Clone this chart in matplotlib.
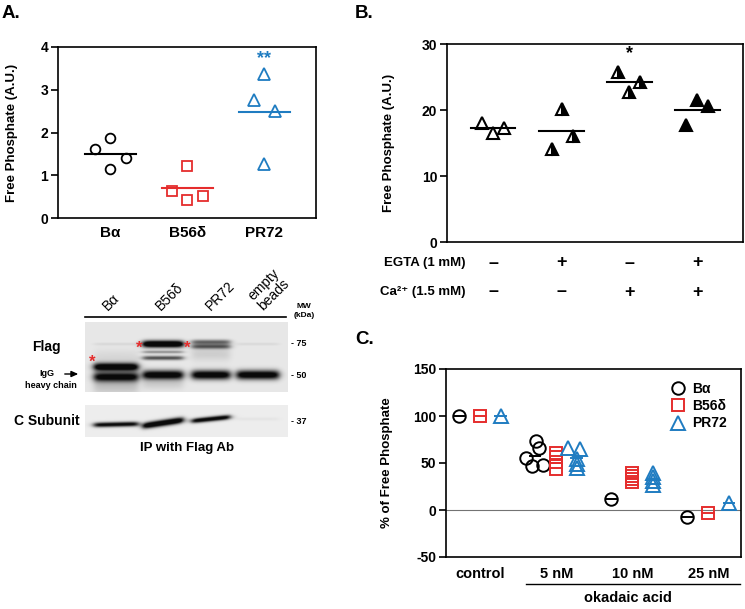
import numpy as np
import matplotlib
matplotlib.use("Agg")
import matplotlib.pyplot as plt
from matplotlib import transforms

plt.rcParams['font.family'] = ['Liberation Sans', 'DejaVu Sans']
plt.rcParams['axes.unicode_minus'] = False

W, H = 745, 609

# --- Panel A: phosphatase activity per B subunit ---
a_groups = ['Bα', 'B56δ', 'PR72']
a_vals = [[1.61, 1.87, 1.40, 1.15],
          [1.22, 0.64, 0.41, 0.52],
          [3.38, 2.77, 2.50, 1.26]]
a_jitter = [[-0.2, 0.0, 0.2, 0.0],
            [0.0, -0.2, 0.0, 0.2],
            [0.0, -0.14, 0.14, 0.0]]
a_yticks = [0, 1, 2, 3, 4]

# --- Panel B: EGTA / Ca2+ ---
b_vals = [[18.0, 16.5, 17.3],
          [20.1, 14.1, 16.1],
          [25.8, 22.8, 24.2],
          [17.7, 21.5, 20.6]]
b_jitter = [[-0.16, 0.0, 0.16],
            [0.02, -0.14, 0.18],
            [-0.16, 0.0, 0.16],
            [-0.16, 0.0, 0.16]]
b_face = ['white', 'black', 'black', 'black']
b_fill = ['full', 'right', 'right', 'full']
b_egta = ['–', '+', '–', '+']
b_ca = ['–', '–', '+', '+']
b_yticks = [0, 10, 20, 30]

# --- Panel C: okadaic acid ---
c_doses = ['control', '5 nM', '10 nM', '25 nM']
c_series = ['Bα', 'B56δ', 'PR72']
c_bal = [[100], [73, 66, 55, 47, 48], [12], [-7]]
c_b56 = [[100], [61, 56, 51, 44], [39, 36, 33, 30], [-3]]
c_pr72 = [[100], [66, 65, 54, 49, 45], [39, 35, 31, 27], [7]]
c_bal_jit = [[0], [0.01, 0.05, -0.12, -0.04, 0.11], [0], [0]]
c_b56_jit = [[0], [0, 0, 0, 0], [0, 0, 0, 0], [0]]
c_pr72_jit = [[0], [-0.12, 0.04, 0, 0, 0], [0, 0, 0, 0], [0]]
c_yticks = [-50, 0, 50, 100, 150]

# --- Western blot (lane index, y start, y end, sigma, intensity) ---
lanes = ['Bα', 'B56δ', 'PR72', 'empty\nbeads']
lane_x = [116, 163, 211, 258]
lane_hw = [22, 20, 19, 21]
flag_bands = [(0, 45, 45, 2.8, 1.3), (0, 55, 55, 3.4, 1.1), (0, 64, 64, 6.0, 0.18),
              (0, 22, 22, 1.0, 0.07), (0, 36, 36, 6.0, 0.08),
              (1, 22, 22, 2.4, 1.5), (1, 30, 30, 1.0, 0.4), (1, 36, 36, 1.5, 0.7),
              (1, 53, 53, 3.3, 1.2), (1, 62, 62, 4.0, 0.12),
              (2, 20, 20, 1.7, 0.6), (2, 24.5, 24.5, 1.7, 0.65), (2, 32, 32, 5.0, 0.12),
              (2, 53, 53, 3.3, 1.2),
              (3, 22, 22, 1.0, 0.07), (3, 53, 53, 3.3, 1.2)]
csub_bands = [(0, 20, 19, 1.7, 1.1), (1, 21, 15, 2.2, 1.4),
              (2, 16, 12, 1.7, 1.2), (3, 14, 14, 1.2, 0.04)]

COL = ['black', '#e52d2d', '#1f7cc1']
MRK = ['o', 's', '^']


def px_rect(l, t, r, b):
    return [l / W, 1 - b / H, (r - l) / W, (b - t) / H]


def style_axes(ax, yticks):
    for s in ax.spines.values():
        s.set_linewidth(1.2)
    ax.set_yticks(yticks)
    ax.tick_params(axis='y', direction='out', length=5, width=1.2, pad=2, labelsize=10)
    ax.tick_params(axis='x', length=0, labelsize=10.5)
    for lab in ax.get_yticklabels():
        lab.set_fontweight('bold')


def draw_blot(ax, box, bands, bg=0.91):
    x0, x1, y0, y1 = box
    xs = np.linspace(x0, x1, (x1 - x0) * 3)
    ys = np.linspace(y0, y1, (y1 - y0) * 3)
    X, Y = np.meshgrid(xs, ys)
    dark = np.zeros_like(X)
    for lane, ya, yb, sig, k in bands:
        xl, xr = lane_x[lane] - lane_hw[lane], lane_x[lane] + lane_hw[lane]
        t = np.clip((X - xl) / (xr - xl), 0, 1)
        yc = y0 + ya + (yb - ya) * t
        horiz = 1 / (1 + np.exp(-(X - xl) / 2.0)) / (1 + np.exp((X - xr) / 2.0))
        dark += k * horiz * np.exp(-0.5 * ((Y - yc) / sig) ** 2)
    img = bg - (bg - 0.04) * np.clip(dark, 0, 1)
    ax.imshow(img, cmap='gray', vmin=0, vmax=1, extent=(x0, x1, y1, y0),
              interpolation='bilinear', aspect='auto')


def draw_figure():
    fig = plt.figure(figsize=(W / 100, H / 100), dpi=100)

    # overlay for free text and the blot (pixel coordinates)
    ov = fig.add_axes([0, 0, 1, 1])
    ov.axis('off')

    ov.text(2, 13, 'A.', fontsize=13.5, fontweight='bold', ha='left', va='center')
    ov.text(355, 13, 'B.', fontsize=13.5, fontweight='bold', ha='left', va='center')
    ov.text(355, 340, 'C.', fontsize=13.5, fontweight='bold', ha='left', va='center')

    # --- blot ---
    draw_blot(ov, (85, 288, 322, 392), flag_bands)
    draw_blot(ov, (85, 288, 405, 437), csub_bands, bg=0.93)
    ov.set_xlim(0, W)
    ov.set_ylim(H, 0)

    lab_dx = [-6, 0, 2, 7]
    for i, name in enumerate(lanes):
        ov.text(lane_x[i] + lab_dx[i], 313, name, rotation=45, rotation_mode='anchor',
                ha='left', va='bottom', fontsize=10, linespacing=0.95)
    ov.plot([85, 286], [317, 317], color='black', lw=1.2)
    ov.text(304, 311, 'MW\n(kDa)', fontsize=6, fontweight='bold', ha='center', va='center',
            linespacing=1.3)
    for y, mw in [(343, '- 75'), (376, '- 50'), (421, '- 37')]:
        ov.text(291, y, mw, fontsize=6.5, fontweight='bold', ha='left', va='center')
    for x, y in [(92, 362), (139, 348), (187, 348)]:
        ov.text(x, y, '*', color='#e52d2d', fontsize=12, fontweight='bold', ha='center', va='center')
    ov.text(46, 347, 'Flag', fontsize=10, fontweight='bold', ha='center', va='center')
    ov.text(47, 373, 'IgG', fontsize=6.5, fontweight='bold', ha='center', va='center')
    ov.annotate('', xy=(81, 374), xytext=(62, 374),
                arrowprops=dict(arrowstyle='-|>,head_width=0.18,head_length=0.4', lw=1, color='black'))
    ov.text(51, 386, 'heavy chain', fontsize=6.5, fontweight='bold', ha='center', va='center')
    ov.text(47, 421, 'C Subunit', fontsize=10, fontweight='bold', ha='center', va='center')
    ov.text(187, 448, 'IP with Flag Ab', fontsize=9.5, fontweight='bold', ha='center', va='center')

    # --- Panel A ---
    axA = fig.add_axes(px_rect(58, 47, 316, 218))
    for i, (vals, jit) in enumerate(zip(a_vals, a_jitter)):
        axA.plot(i + np.array(jit), vals, ls='none', marker=MRK[i],
                 ms=8 if MRK[i] == '^' else 7, mfc='none', mec=COL[i], mew=1.3)
        m = np.mean(vals)
        axA.plot([i - 0.33, i + 0.33], [m, m], color=COL[i], lw=1.5)
    axA.text(2, 3.72, '**', color=COL[2], fontsize=13, fontweight='bold', ha='center', va='center')
    axA.set_xlim(-0.68, 2.67)
    axA.set_ylim(0, 4)
    style_axes(axA, a_yticks)
    axA.set_xticks(range(3))
    axA.set_xticklabels(a_groups, fontsize=11, fontweight='bold')
    axA.tick_params(axis='x', pad=6)
    axA.set_ylabel('Free Phosphate (A.U.)', fontsize=9.5, fontweight='bold')
    axA.yaxis.set_label_coords(-0.155, 0.5)

    # --- Panel B ---
    axB = fig.add_axes(px_rect(447, 44, 743, 242))
    for i, (vals, jit) in enumerate(zip(b_vals, b_jitter)):
        axB.plot(i + np.array(jit), vals, ls='none', marker='^', ms=9,
                 mfc=b_face[i], mfcalt='white', fillstyle=b_fill[i],
                 mec='black', mew=1.5)
        m = np.mean(vals)
        axB.plot([i - 0.33, i + 0.33], [m, m], color='black', lw=1.5)
    axB.text(2, 28.6, '*', fontsize=13, fontweight='bold', ha='center', va='center')
    axB.set_xlim(-0.675, 3.67)
    axB.set_ylim(0, 30)
    style_axes(axB, b_yticks)
    axB.set_xticks([])
    axB.set_ylabel('Free Phosphate (A.U.)', fontsize=9.5, fontweight='bold')
    axB.yaxis.set_label_coords(-0.176, 0.5)

    tr = transforms.blended_transform_factory(axB.transData, ov.transData)
    ov.text(465, 263, 'EGTA (1 mM)', fontsize=9.5, fontweight='bold', ha='right', va='center')
    ov.text(465, 292, 'Ca²⁺ (1.5 mM)', fontsize=9.5, fontweight='bold', ha='right', va='center')
    for i in range(4):
        ov.text(i, 263, b_egta[i], transform=tr, fontsize=13, fontweight='bold', ha='center', va='center')
        ov.text(i, 292, b_ca[i], transform=tr, fontsize=13, fontweight='bold', ha='center', va='center')

    # --- Panel C ---
    axC = fig.add_axes(px_rect(446, 369, 741, 557))
    axC.axhline(0, color='0.45', lw=0.8, zorder=0)
    c_data = [(c_bal, c_bal_jit), (c_b56, c_b56_jit), (c_pr72, c_pr72_jit)]
    offs = [-0.28, 0.0, 0.27]
    handles = []
    for s, (vals_all, jit_all) in enumerate(c_data):
        for d in range(len(c_doses)):
            base = d + offs[s]
            ln, = axC.plot(base + np.array(jit_all[d]), vals_all[d], ls='none',
                           marker=MRK[s], ms=9.5 if MRK[s] == '^' else 9,
                           mfc='none', mec=COL[s], mew=1.4)
            m = np.mean(vals_all[d])
            axC.plot([base - 0.07, base + 0.07], [m, m], color=COL[s], lw=1.4)
            if d == 0:
                handles.append(ln)
    axC.set_xlim(-0.45, 3.43)
    axC.set_ylim(-50, 150)
    style_axes(axC, c_yticks)
    axC.set_xticks(range(4))
    axC.set_xticklabels(c_doses, fontsize=10.5, fontweight='bold')
    axC.tick_params(axis='x', pad=7)
    axC.set_ylabel('% of Free Phosphate', fontsize=9.5, fontweight='bold')
    axC.yaxis.set_label_coords(-0.18, 0.5)
    leg = axC.legend(handles, c_series, loc='upper right', bbox_to_anchor=(0.985, 0.985),
                     frameon=False, fontsize=10, handlelength=1.0, handletextpad=0.5,
                     labelspacing=0.25, borderpad=0.2)
    for t in leg.get_texts():
        t.set_fontweight('bold')

    ov.plot([526, 740], [584, 584], color='black', lw=1.0)
    ov.text(628, 598, 'okadaic acid', fontsize=10.5, fontweight='bold', ha='center', va='center')

    fig.savefig('out.png', dpi=100)


if __name__ == "__main__":
    draw_figure()
